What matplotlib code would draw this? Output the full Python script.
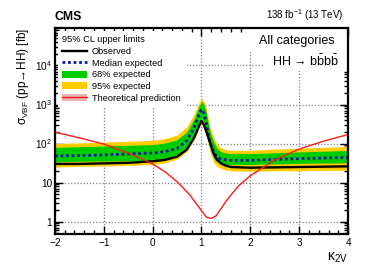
import math
import matplotlib
matplotlib.use('Agg')
import matplotlib.pyplot as plt
from matplotlib.patches import Patch, Rectangle
from matplotlib.lines import Line2D
from matplotlib.ticker import MultipleLocator, LogLocator, FuncFormatter, NullFormatter, FixedLocator

plt.rcParams['font.family'] = ['Liberation Sans', 'DejaVu Sans']
plt.rcParams['mathtext.fontset'] = 'custom'
plt.rcParams['mathtext.rm'] = 'Liberation Sans'
plt.rcParams['mathtext.it'] = 'Liberation Sans:italic'
plt.rcParams['mathtext.bf'] = 'Liberation Sans:bold'

# ---- data ----
k2v = [-2, -1.5, -1, -0.5, 0, 0.25, 0.5, 0.7, 0.85, 0.95, 1.0, 1.05, 1.1,
       1.17, 1.25, 1.32, 1.4, 1.5, 1.6, 2.0, 2.5, 3.0, 3.5, 4.0]
observed = [30, 30, 31, 32, 35, 38, 46, 70, 140, 280, 380, 300, 200,
            110, 55, 38, 31, 27, 25, 24, 24.5, 25, 25.5, 26]
median = [48, 49, 51, 54, 57, 62, 75, 120, 260, 560, 750, 600, 320,
          110, 60, 45, 40, 38, 37, 37, 39, 41, 42.5, 44]
band68_lo = [34, 35, 35.5, 36, 37.5, 41, 52, 80, 170, 340, 450, 360, 210,
             80, 42, 34, 30, 29, 29, 29, 30, 31, 31.5, 32]
band68_hi = [80, 83, 86, 90, 94, 103, 125, 200, 430, 900, 1200, 1000, 600,
             210, 110, 75, 62, 57, 55, 55, 58, 61, 63.5, 66]
band95_lo = [25, 26, 26.5, 27.5, 29, 32, 40, 62, 130, 250, 320, 270, 160,
             62, 33, 26, 23, 21, 20, 19.5, 20, 20, 20.5, 20.5]
band95_hi = [100, 104, 108, 114, 121, 133, 165, 270, 560, 1150, 1400, 1200, 780,
             270, 140, 95, 78, 70, 67, 67, 72, 76, 80, 84]

k2v_theory = [-2, -1.5, -1, -0.5, 0, 0.25, 0.5, 0.75, 1.0, 1.1, 1.2, 1.3,
              1.5, 1.75, 2.0, 2.5, 3.0, 3.5, 4.0]
theory = [195, 140, 97, 57, 30, 19, 10.5, 5, 1.9, 1.3, 1.2, 1.4,
          3.3, 8, 15, 38, 72, 115, 170]

xticks = [-2, -1, 0, 1, 2, 3, 4]
yticks = [1, 10, 100, 1000, 10000]

# ---- figure ----
fig = plt.figure(figsize=(3.66, 2.75), dpi=100)
ax = fig.add_axes([0.150, 0.149, 0.801, 0.749])

ax.fill_between(k2v, band95_lo, band95_hi, color='#ffcc00', lw=0, zorder=1)
ax.fill_between(k2v, band68_lo, band68_hi, color='#00cc00', lw=0, zorder=1.1)
ax.plot(k2v, median, color='#0a1aa0', ls=(0, (1, 1)), lw=2.0, zorder=2)
ax.plot(k2v, observed, color='black', lw=1.7, zorder=2.1)
ax.plot(k2v_theory, theory, color='#ff1a1a', lw=1.0, zorder=2.2)

ax.set_yscale('log')
ax.set_xlim(-2, 4)
ax.set_ylim(10 ** -0.32, 10 ** 4.96)

ax.xaxis.set_major_locator(FixedLocator(xticks))
ax.xaxis.set_minor_locator(MultipleLocator(0.2))
ax.xaxis.set_major_formatter(FuncFormatter(lambda v, p: ('\u2212%d' % abs(v)) if v < 0 else '%d' % v))
ax.yaxis.set_major_locator(FixedLocator(yticks))
ax.yaxis.set_minor_locator(LogLocator(base=10, subs=[2, 3, 4, 5, 6, 7, 8, 9], numticks=20))
ax.yaxis.set_minor_formatter(NullFormatter())


def yfmt(v, p):
    if v == 1:
        return '1'
    if v == 10:
        return '10'
    return r'$10^{%d}$' % round(math.log10(v))


ax.yaxis.set_major_formatter(FuncFormatter(yfmt))

ax.tick_params(which='both', direction='in', top=True, right=True, labelsize=7.2, width=1)
ax.tick_params(which='major', length=6)
ax.tick_params(which='minor', length=3)
ax.tick_params(axis='x', pad=3)
ax.tick_params(axis='y', pad=2)
for s in ax.spines.values():
    s.set_linewidth(1.6)

ax.set_axisbelow(True)
ax.grid(True, which='major', color='#808080', ls=(0, (1, 1.5)), lw=0.9)

# white areas behind the text (hide grid)
ax.add_patch(Rectangle((0.648, 0.883), 0.352, 0.117, transform=ax.transAxes,
                       fc='white', ec='none', zorder=0.8))
ax.add_patch(Rectangle((0.71, 0.79), 0.29, 0.10, transform=ax.transAxes,
                       fc='white', ec='none', zorder=0.8))

ax.text(0.955, 0.937, 'All categories', transform=ax.transAxes, ha='right', va='center',
        fontsize=9, zorder=5)
ax.text(0.97, 0.84, 'HH \u2192 b$\\bar{\\mathrm{b}}$b$\\bar{\\mathrm{b}}$', transform=ax.transAxes,
        ha='right', va='center', fontsize=9, zorder=5)

# labels
ax.set_ylabel('\u03c3$_{\\mathrm{VBF}}$ (pp\u2192HH) [fb]', fontsize=8.5, loc='top', labelpad=3)
ax.set_xlabel('\u03ba$_{\\mathrm{2V}}$', fontsize=10, loc='right', labelpad=2)

ax.text(0.0, 1.025, 'CMS', transform=ax.transAxes, ha='left', va='bottom',
        fontsize=8.8, fontweight='bold')
ax.text(0.985, 1.025, r'138 fb$^{-1}$ (13 TeV)', transform=ax.transAxes, ha='right', va='bottom',
        fontsize=7)

handles = [
    Line2D([], [], color='black', lw=1.7),
    Line2D([], [], color='#0a1aa0', ls=(0, (1, 1)), lw=2.0),
    Patch(fc='#00cc00', ec='none'),
    Patch(fc='#ffcc00', ec='none'),
    (Patch(fc='#e8b4b4', ec='none'), Line2D([], [], color='#ff1a1a', lw=1.0)),
]
labels = ['Observed', 'Median expected', '68% expected', '95% expected', 'Theoretical prediction']
leg = ax.legend(handles, labels, loc='upper left', title='95% CL upper limits',
                fontsize=6.7, title_fontsize=6.7, frameon=True, facecolor='white',
                edgecolor='none', framealpha=1, fancybox=False,
                handlelength=2.6, handleheight=0.8, handletextpad=0.55,
                labelspacing=0.28, borderpad=0.5, borderaxespad=0.3,
                alignment='left')
leg.set_zorder(4)

fig.savefig('out.png', dpi=100)
